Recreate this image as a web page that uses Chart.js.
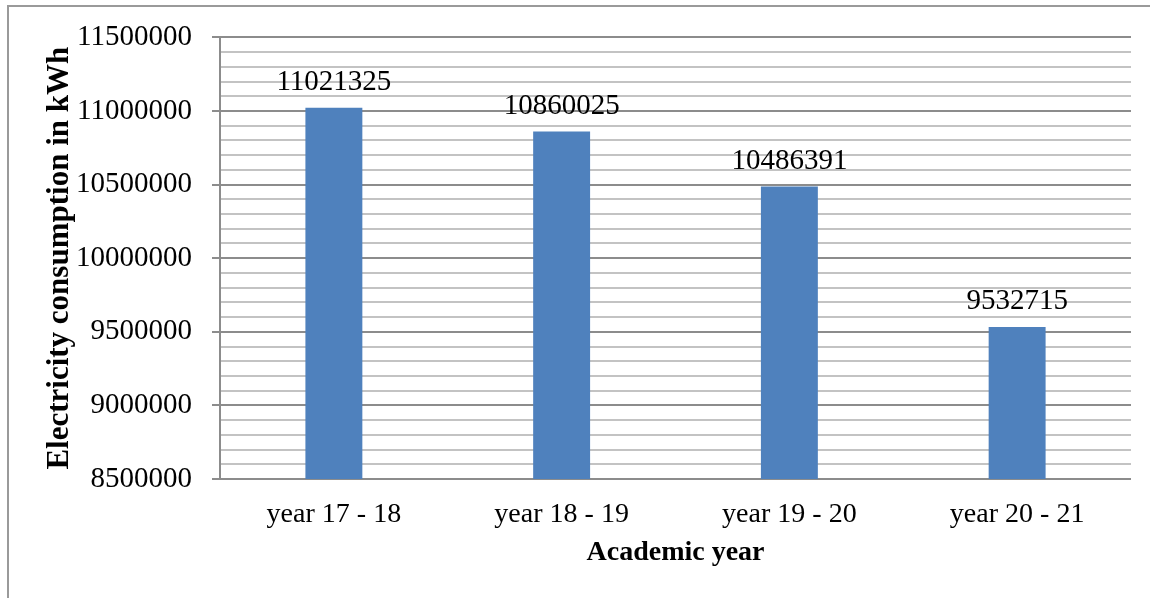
<!DOCTYPE html>
<html>
<head>
<meta charset="utf-8">
<title>Electricity consumption by academic year</title>
<script src="https://cdn.jsdelivr.net/npm/chart.js@4/dist/chart.umd.min.js"></script>
<style>
  html, body { margin: 0; padding: 0; background: #ffffff; }
  #wrap { position: relative; width: 1150px; height: 598px; }
</style>
</head>
<body>
<div id="wrap"><canvas id="chart" width="1150" height="598"></canvas></div>
<script>
// Academic years and yearly consumption (kWh)
const years = ['year 17 - 18', 'year 18 - 19', 'year 19 - 20', 'year 20 - 21'];
const consumption = [11021325, 10860025, 10486391, 9532715];

// Value axis range and spacing
const axisMin = 8500000;
const axisMax = 11500000;
const minorStep = 100000;
const majorStep = 500000;

const FONT = "'Liberation Serif', 'Times New Roman', serif";
const MAJOR_GRID = '#8c8c8c';
const MINOR_GRID = '#c3c3c3';
const BAR_BLUE = '#4f81bd';

const isMajor = v => Math.round(v) % majorStep === 0;

// Frame on the top and left edges, white background
const framePlugin = {
  id: 'frame',
  beforeDraw(chart) {
    const ctx = chart.ctx;
    ctx.save();
    ctx.fillStyle = '#ffffff';
    ctx.fillRect(0, 0, chart.width, chart.height);
    ctx.strokeStyle = '#9a9a9a';
    ctx.lineWidth = 2;
    ctx.beginPath();
    ctx.moveTo(8, chart.height);
    ctx.lineTo(8, 6);
    ctx.lineTo(chart.width, 6);
    ctx.stroke();
    ctx.restore();
  }
};

// Value printed above each bar
const valueLabels = {
  id: 'valueLabels',
  afterDatasetsDraw(chart) {
    const ctx = chart.ctx;
    const meta = chart.getDatasetMeta(0);
    const values = chart.data.datasets[0].data;
    ctx.save();
    ctx.font = '29px ' + FONT;
    ctx.fillStyle = '#000000';
    ctx.textAlign = 'center';
    ctx.textBaseline = 'alphabetic';
    meta.data.forEach((bar, i) => {
      ctx.fillText(String(values[i]), bar.x, bar.y - 18);
    });
    ctx.restore();
  }
};

new Chart(document.getElementById('chart'), {
  type: 'bar',
  data: {
    labels: years,
    datasets: [{
      data: consumption,
      backgroundColor: BAR_BLUE,
      borderWidth: 0,
      categoryPercentage: 1.0,
      barPercentage: 0.25
    }]
  },
  options: {
    responsive: false,
    animation: false,
    devicePixelRatio: 1,
    layout: { padding: { top: 35, right: 19, bottom: 0, left: 0 } },
    plugins: {
      legend: { display: false },
      tooltip: { enabled: false }
    },
    scales: {
      x: {
        grid: { display: false },
        border: { display: false },
        ticks: {
          color: '#000000',
          font: { family: FONT, size: 28 },
          padding: 11,
          maxRotation: 0
        },
        title: {
          display: true,
          text: 'Academic year',
          color: '#000000',
          font: { family: FONT, size: 28, weight: 'bold' },
          padding: { top: 0, bottom: 28 }
        },
        afterFit(scale) { scale.height = 119; }
      },
      y: {
        min: axisMin,
        max: axisMax,
        grid: {
          color: ctx => isMajor(ctx.tick.value) ? MAJOR_GRID : MINOR_GRID,
          tickColor: ctx => isMajor(ctx.tick.value) ? MAJOR_GRID : 'rgba(0,0,0,0)',
          lineWidth: 2,
          tickLength: 8
        },
        border: { display: true, color: MAJOR_GRID, width: 2 },
        ticks: {
          stepSize: minorStep,
          maxTicksLimit: 100,
          autoSkip: false,
          padding: 20,
          color: '#000000',
          font: { family: FONT, size: 29 },
          callback: v => isMajor(v) ? String(v) : ''
        },
        title: {
          display: true,
          text: 'Electricity consumption in kWh',
          color: '#000000',
          font: { family: FONT, size: 31, weight: 'bold' },
          padding: { top: 41, bottom: 0 }
        },
        afterFit(scale) { scale.width = 220; }
      }
    }
  },
  plugins: [framePlugin, valueLabels]
});
</script>
</body>
</html>
